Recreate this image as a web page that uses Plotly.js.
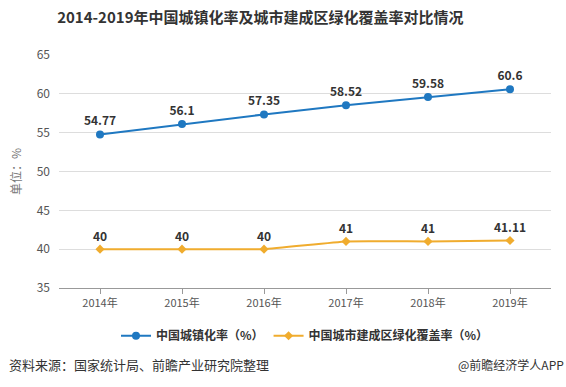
<!DOCTYPE html>
<html><head><meta charset="utf-8">
<script src="https://cdn.plot.ly/plotly-3.0.1.min.js"></script>
<style>html,body{margin:0;padding:0;background:#fff}#c{width:566px;height:387px}</style>
</head><body><div id="c"></div>
<script>
const years = ['2014年','2015年','2016年','2017年','2018年','2019年'];
const urbanRate = [54.77, 56.1, 57.35, 58.52, 59.58, 60.6];
const greenRate = [40, 40, 40, 41, 41, 41.11];
const urbanLabels = ['54.77','56.1','57.35','58.52','59.58','60.6'];
const greenLabels = ['40','40','40','41','41','41.11'];
const seriesNames = ['中国城镇化率（%）','中国城市建成区绿化覆盖率（%）'];
const font = 'Noto Sans CJK SC, Noto Sans, sans-serif';

const traces = [
  {x: years, y: urbanRate, name: seriesNames[0], type:'scatter', mode:'lines+markers+text',
   text: urbanLabels, textposition:'top center',
   textfont:{family:font, size:12, color:'#333', weight:'bold'},
   line:{color:'#1f78c1', width:2}, marker:{color:'#1f78c1', size:8, symbol:'circle'}},
  {x: years, y: greenRate, name: seriesNames[1], type:'scatter', mode:'lines+markers+text',
   text: greenLabels, textposition:'top center',
   textfont:{family:font, size:12, color:'#333', weight:'bold'},
   line:{color:'#f0ac2e', width:2, shape:'spline', smoothing:0.35}, marker:{color:'#f0ac2e', size:7, symbol:'diamond'}}
];

const layout = {
  width:566, height:387,
  margin:{l:59, r:15, t:55, b:99},
  paper_bgcolor:'#fff', plot_bgcolor:'#fff',
  font:{family:font, size:12, color:'#555'},
  title:{text:'2014-2019年中国城镇化率及城市建成区绿化覆盖率对比情况', x:0.46, xanchor:'center', y:0.955, yanchor:'middle',
    font:{family:font, size:15, color:'#333', weight:'bold'}},
  xaxis:{type:'category', range:[-0.5,5.5], showgrid:false, showline:true, linecolor:'#999', linewidth:1,
    ticks:'outside', ticklen:5, tickcolor:'#999', tickfont:{size:11, color:'#555'}, fixedrange:true},
  yaxis:{range:[35,65], dtick:5, showgrid:true, gridcolor:'#ddd', gridwidth:1, zeroline:false, showline:false,
    tickfont:{size:12, color:'#555'}, ticklabelstandoff:8,
    title:{text:'单位：%', font:{size:12, color:'#777'}, standoff:12}},
  showlegend:true,
  legend:{orientation:'h', x:0.5, xanchor:'center', y:-0.205, yanchor:'middle',
    font:{size:12, color:'#333', weight:'bold'}},
  annotations:[
    {text:'资料来源：国家统计局、前瞻产业研究院整理', xref:'paper', yref:'paper', x:-0.1, xanchor:'left', y:-0.33, yanchor:'middle', showarrow:false,
     font:{size:13, color:'#333'}, xshift:-3},
    {text:'@前瞻经济学人APP', xref:'paper', yref:'paper', x:1.03, xanchor:'right', y:-0.33, yanchor:'middle', showarrow:false,
     font:{size:12, color:'#333'}}
  ]
};
Plotly.newPlot('c', traces, layout, {displayModeBar:false, staticPlot:true});
</script></body></html>
